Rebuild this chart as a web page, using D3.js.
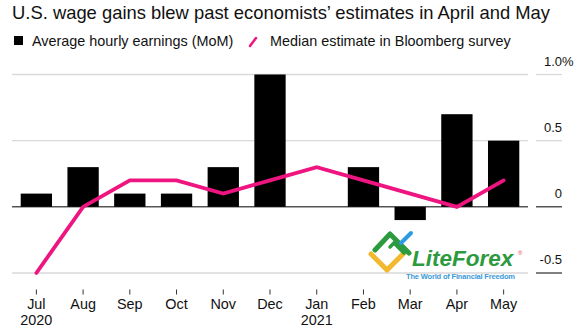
<!DOCTYPE html>
<html>
<head>
<meta charset="utf-8">
<script src="https://cdn.jsdelivr.net/npm/d3@7"></script>
<style>
  body { margin: 0; background: #fff; }
  svg { display: block; font-family: "Liberation Sans", Arial, Helvetica, sans-serif; }
</style>
</head>
<body>
<svg id="chart" width="588" height="331"></svg>
<script>
// Chart data
var months = ["Jul", "Aug", "Sep", "Oct", "Nov", "Dec", "Jan", "Feb", "Mar", "Apr", "May"];
var years = ["2020", "", "", "", "", "", "2021", "", "", "", ""];
var earnings = [0.1, 0.3, 0.1, 0.1, 0.3, 1.0, 0.0, 0.3, -0.1, 0.7, 0.5];
var estimate = [-0.5, 0.0, 0.2, 0.2, 0.1, 0.2, 0.3, 0.2, 0.1, 0.0, 0.2];
var yTicks = [1.0, 0.5, 0, -0.5];
var yTickLabels = ["1.0%", "0.5", "0", "-0.5"];

var PINK = "#ee1581";

var svg = d3.select("#chart");

// Title
svg.append("text")
  .attr("x", 12).attr("y", 19)
  .style("font-size", "18.4px")
  .style("fill", "#111")
  .text("U.S. wage gains blew past economists\u2019 estimates in April and May");

// Legend
svg.append("rect")
  .attr("x", 14).attr("y", 36).attr("width", 9).attr("height", 9)
  .attr("fill", "#000");
svg.append("text")
  .attr("x", 32).attr("y", 45.5)
  .style("font-size", "14.4px").style("fill", "#111")
  .text("Average hourly earnings (MoM)");
svg.append("line")
  .attr("x1", 250).attr("y1", 46).attr("x2", 256).attr("y2", 38)
  .attr("stroke", PINK).attr("stroke-width", 2.5).attr("stroke-linecap", "round");
svg.append("text")
  .attr("x", 270).attr("y", 45.5)
  .style("font-size", "14.4px").style("fill", "#111")
  .text("Median estimate in Bloomberg survey");

// Scales
var x = d3.scaleBand()
  .domain(months)
  .range([13, 527])
  .paddingInner(0.33)
  .paddingOuter(0.165);

var y = d3.scaleLinear()
  .domain([-0.5, 1.0])
  .range([273, 74.5]);

// Gridlines
svg.selectAll("line.grid")
  .data(yTicks)
  .enter()
  .append("line")
  .attr("class", "grid")
  .attr("x1", 12).attr("x2", 528)
  .attr("y1", function(d) { return y(d); })
  .attr("y2", function(d) { return y(d); })
  .attr("stroke", function(d) { return d === 0 ? "#000" : "#d9d9d9"; })
  .attr("stroke-width", function(d) { return d === 0 ? 1 : 1.3; });

// Short lines under the tick labels on the right
svg.selectAll("line.tickline")
  .data(yTicks)
  .enter()
  .append("line")
  .attr("class", "tickline")
  .attr("x1", 536).attr("x2", 562)
  .attr("y1", function(d) { return y(d); })
  .attr("y2", function(d) { return y(d); })
  .attr("stroke", function(d) { return d === 0 || d === -0.5 ? "#000" : "#d9d9d9"; })
  .attr("stroke-width", function(d) { return d === 0 || d === -0.5 ? 1 : 1.3; });

// Right tick labels (the "%" hangs past the right edge)
svg.selectAll("text.ylab")
  .data(yTicks)
  .enter()
  .append("text")
  .attr("class", "ylab")
  .attr("x", 562)
  .attr("y", function(d) { return y(d) - 9; })
  .attr("text-anchor", "end")
  .style("font-size", "13px").style("fill", "#111")
  .text(function(d, i) { return yTickLabels[i].replace("%", ""); });
svg.append("text")
  .attr("x", 562).attr("y", y(1.0) - 9)
  .style("font-size", "13px").style("fill", "#111")
  .text("%");

// Bars
svg.selectAll("rect.bar")
  .data(earnings)
  .enter()
  .append("rect")
  .attr("class", "bar")
  .attr("x", function(d, i) { return x(months[i]); })
  .attr("width", x.bandwidth())
  .attr("y", function(d) { return y(Math.max(0, d)); })
  .attr("height", function(d) { return Math.abs(y(d) - y(0)); })
  .attr("fill", "#000");

// Median estimate line
var line = d3.line()
  .x(function(d, i) { return x(months[i]) + x.bandwidth() / 2; })
  .y(function(d) { return y(d); });

svg.append("path")
  .datum(estimate)
  .attr("d", line)
  .attr("fill", "none")
  .attr("stroke", PINK)
  .attr("stroke-width", 3.8)
  .attr("stroke-linejoin", "miter")
  .attr("stroke-linecap", "round");

// X axis ticks and labels
var xAxis = svg.append("g");
xAxis.selectAll("line")
  .data(months)
  .enter()
  .append("line")
  .attr("x1", function(d) { return x(d) + x.bandwidth() / 2; })
  .attr("x2", function(d) { return x(d) + x.bandwidth() / 2; })
  .attr("y1", 289.5).attr("y2", 294.5)
  .attr("stroke", "#333").attr("stroke-width", 1);
xAxis.selectAll("text.month")
  .data(months)
  .enter()
  .append("text")
  .attr("class", "month")
  .attr("x", function(d) { return x(d) + x.bandwidth() / 2; })
  .attr("y", 309)
  .attr("text-anchor", "middle")
  .style("font-size", "14.4px").style("fill", "#111")
  .text(function(d) { return d; });
xAxis.selectAll("text.year")
  .data(years)
  .enter()
  .append("text")
  .attr("class", "year")
  .attr("x", function(d, i) { return x(months[i]) + x.bandwidth() / 2; })
  .attr("y", 325)
  .attr("text-anchor", "middle")
  .style("font-size", "14.4px").style("fill", "#111")
  .text(function(d) { return d; });

// LiteForex watermark
var logo = svg.append("g");
logo.append("polyline")
  .attr("points", "371,254 387,270 405,252")
  .attr("fill", "none").attr("stroke", "#f2b92e").attr("stroke-width", 5)
  .attr("stroke-linecap", "round").attr("stroke-linejoin", "round");
logo.append("polyline")
  .attr("points", "375,250 390,234 409,253")
  .attr("fill", "none").attr("stroke", "#2c9a3e").attr("stroke-width", 5)
  .attr("stroke-linecap", "round").attr("stroke-linejoin", "round");
logo.append("polyline")
  .attr("points", "390,247 394,243 404,253")
  .attr("fill", "none").attr("stroke", "#2c9a3e").attr("stroke-width", 3.5)
  .attr("stroke-linecap", "round");
logo.append("line")
  .attr("x1", 401).attr("y1", 243).attr("x2", 411).attr("y2", 233)
  .attr("stroke", "#2e9be0").attr("stroke-width", 4).attr("stroke-linecap", "round");
logo.append("text")
  .attr("x", 412).attr("y", 265.5)
  .style("font-size", "22.5px").style("font-weight", "bold").style("font-style", "italic")
  .style("fill", "#2c9a3e")
  .text("LiteForex");
logo.append("text")
  .attr("x", 518).attr("y", 255)
  .style("font-size", "6px").style("fill", "#e33")
  .text("\u00ae");
logo.append("text")
  .attr("x", 406).attr("y", 278.5)
  .attr("textLength", 109)
  .style("font-size", "7.5px").style("font-weight", "bold")
  .style("fill", "#3a9ad9")
  .text("The World of Financial Freedom");
</script>
</body>
</html>
